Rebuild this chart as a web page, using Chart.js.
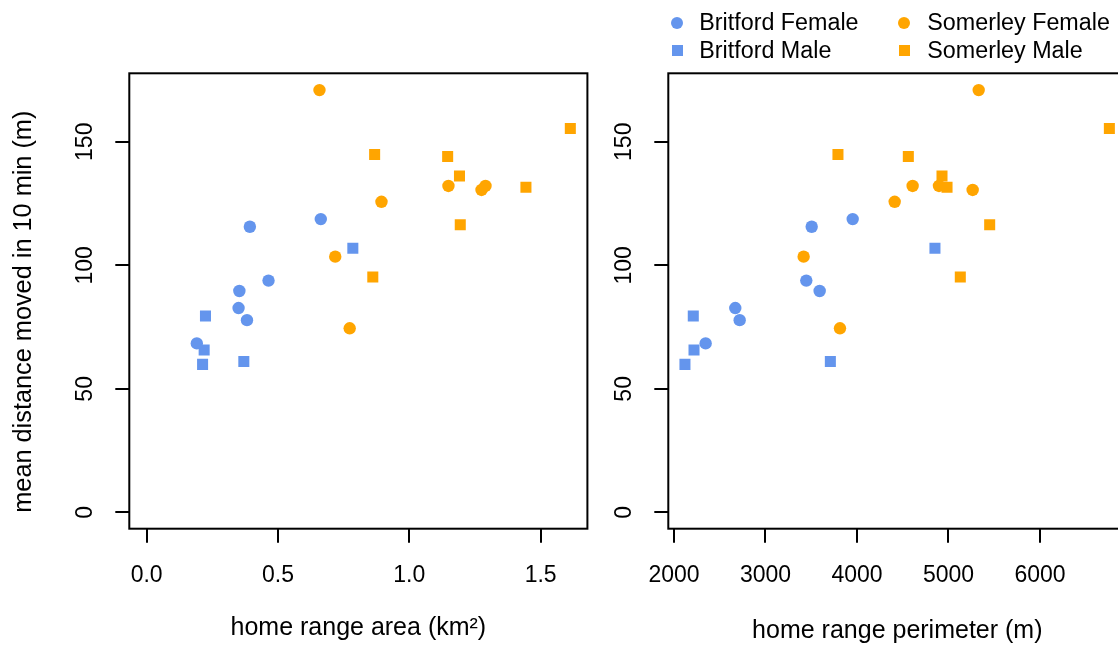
<!DOCTYPE html>
<html><head><meta charset="utf-8">
<script src="https://cdn.jsdelivr.net/npm/chart.js@4/dist/chart.umd.min.js"></script>
<style>
html,body{margin:0;padding:0;background:#fff;}
#wrap{position:relative;width:1118px;height:647px;overflow:hidden;font-family:"Liberation Sans",Arial,sans-serif;background:#fff;}
canvas{position:absolute;top:0;}
#c1{left:0;}
#c2{left:560px;}
.lg{position:absolute;font-size:23.3px;line-height:23px;color:#000;white-space:nowrap;}
.mk{position:absolute;}
</style></head><body>
<div id="wrap">
<canvas id="c1" width="600" height="647"></canvas>
<canvas id="c2" width="620" height="647"></canvas>
<div id="legend"></div>
</div>
<script>
// ---- data ----
const groupNames = ['Britford Female', 'Britford Male', 'Somerley Female', 'Somerley Male'];
const groupColors = ['#6495ED', '#6495ED', '#FFA500', '#FFA500'];
const groupShapes = ['circle', 'rect', 'circle', 'rect'];

// Britford Female
const bfArea  = [0.393, 0.663, 0.464, 0.353, 0.350, 0.382, 0.191];
const bfPerim = [3505, 3953, 3446, 3592, 2670, 2718, 2346];
const bfDist  = [115.6, 118.7, 93.8, 89.6, 82.7, 77.8, 68.4];
// Britford Male
const bmArea  = [0.785, 0.224, 0.219, 0.213, 0.370];
const bmPerim = [4852, 2211, 2219, 2120, 3709];
const bmDist  = [106.9, 79.5, 65.7, 59.9, 61.1];
// Somerley Female
const sfArea  = [0.658, 1.149, 1.290, 1.275, 0.894, 0.718, 0.773];
const sfPerim = [5330, 4608, 4896, 5264, 4412, 3417, 3814];
const sfDist  = [170.9, 132.1, 132.1, 130.5, 125.7, 103.5, 74.5];
// Somerley Male
const smArea  = [1.613, 0.868, 1.146, 1.191, 1.444, 1.194, 0.861];
const smPerim = [6758, 3792, 4561, 4929, 4984, 5450, 5129];
const smDist  = [155.4, 144.8, 144.0, 136.1, 131.6, 116.4, 95.3];

const areaTicks = [0, 0.5, 1.0, 1.5];
const areaTickLabels = ['0.0', '0.5', '1.0', '1.5'];
const perimTicks = [2000, 3000, 4000, 5000, 6000];
const perimTickLabels = ['2000', '3000', '4000', '5000', '6000'];
const distTicks = [0, 50, 100, 150];
const distTickLabels = ['0', '50', '100', '150'];

const yTitleText = 'mean distance moved in 10 min (m)';

const areaAll = [bfArea, bmArea, sfArea, smArea];
const perimAll = [bfPerim, bmPerim, sfPerim, smPerim];
const distAll = [bfDist, bmDist, sfDist, smDist];

// ---- styling ----
const FAMILY = '"Liberation Sans", Arial, sans-serif';
const FONT = {family: FAMILY, size: 23};
const TFONT = {family: FAMILY, size: 25};
const INK = '#000';

function makeDatasets(xs) {
  return groupNames.map((name, g) => ({
    label: name,
    data: xs[g].map((x, i) => ({x: x, y: distAll[g][i]})),
    pointStyle: groupShapes[g],
    pointRadius: groupShapes[g] === 'rect' ? 7.8 : 6.2,
    pointBorderWidth: 0,
    backgroundColor: groupColors[g],
    borderColor: groupColors[g],
    showLine: false
  }));
}

const boxPlugin = {
  id: 'box',
  afterDatasetsDraw(chart) {
    const {ctx, chartArea: a} = chart;
    ctx.save();
    ctx.strokeStyle = INK;
    ctx.lineWidth = 2;
    ctx.strokeRect(a.left, a.top, a.right - a.left, a.bottom - a.top);
    ctx.restore();
  }
};

// y-axis title (left panel only), placed like R's ylab
const yTitlePlugin = {
  id: 'ytitle',
  afterDraw(chart) {
    if (chart.canvas.id !== 'c1') return;
    const {ctx, chartArea: a} = chart;
    ctx.save();
    ctx.translate(30.9, (a.top + a.bottom) / 2 + 10.7);
    ctx.rotate(-Math.PI / 2);
    ctx.font = '25.3px ' + FAMILY;
    ctx.fillStyle = INK;
    ctx.textAlign = 'center';
    ctx.textBaseline = 'alphabetic';
    ctx.fillText(yTitleText, 0, 0);
    ctx.restore();
  }
};

function gridOpts() {
  return {drawOnChartArea: false, drawTicks: true, tickLength: 14, color: INK, lineWidth: 2};
}

function makeChart(canvasId, cfg) {
  return new Chart(document.getElementById(canvasId), {
    type: 'scatter',
    data: {datasets: makeDatasets(cfg.xs)},
    plugins: [boxPlugin, yTitlePlugin],
    options: {
      responsive: false,
      animation: false,
      events: [],
      layout: {padding: cfg.padding},
      plugins: {legend: {display: false}, tooltip: {enabled: false}},
      scales: {
        x: {
          type: 'linear', min: cfg.xmin, max: cfg.xmax,
          afterBuildTicks: s => { s.ticks = cfg.xTicks.map(v => ({value: v})); },
          afterFit: s => { s.height = 118.3; },
          border: {display: false},
          grid: gridOpts(),
          ticks: {font: FONT, color: INK, padding: 18.8, maxRotation: 0, minRotation: 0, autoSkip: false,
                  callback: (v, i) => cfg.xTickLabels[i]},
          title: {display: true, text: cfg.xTitle, font: TFONT, color: INK,
                  padding: {top: 0, bottom: cfg.xTitlePad}}
        },
        y: {
          type: 'linear', min: -6.6, max: 177.7,
          afterBuildTicks: s => { s.ticks = distTicks.map(v => ({value: v})); },
          afterFit: s => { s.width = cfg.yWidth; },
          border: {display: false},
          grid: gridOpts(),
          ticks: {font: FONT, color: INK, padding: 10.6, minRotation: 90, maxRotation: 90,
                  crossAlign: 'center', autoSkip: false,
                  callback: (v, i) => distTickLabels[i]},
          title: {display: false}
        }
      }
    }
  });
}

makeChart('c1', {
  xs: areaAll, xmin: -0.066, xmax: 1.678,
  xTicks: areaTicks, xTickLabels: areaTickLabels,
  xTitle: 'home range area (km²)', xTitlePad: 4,
  yWidth: 129.3,
  padding: {top: 73.3, right: 12.6, left: 0, bottom: 0}
});

makeChart('c2', {
  xs: perimAll, xmin: 1938, xmax: 6943,
  xTicks: perimTicks, xTickLabels: perimTickLabels,
  xTitle: 'home range perimeter (m)', xTitlePad: 0.7,
  yWidth: 108.3,
  padding: {top: 73.3, right: 53.7, left: 0, bottom: 0}
});

// ---- legend (2 x 2, column-major: Britford | Somerley) ----
const legendPos = [
  {mx: 676.7, my: 22.7, tx: 699.3, ty: 11.2},
  {mx: 677.0, my: 50.7, tx: 699.3, ty: 39.0},
  {mx: 904.3, my: 22.7, tx: 927.3, ty: 11.2},
  {mx: 904.6, my: 50.7, tx: 927.3, ty: 39.0}
];
const lg = document.getElementById('legend');
groupNames.forEach((name, g) => {
  const p = legendPos[g];
  const mk = document.createElement('div');
  mk.className = 'mk';
  const size = groupShapes[g] === 'rect' ? 11 : 12.4;
  mk.style.width = size + 'px';
  mk.style.height = size + 'px';
  mk.style.left = (p.mx - size / 2) + 'px';
  mk.style.top = (p.my - size / 2) + 'px';
  mk.style.background = groupColors[g];
  if (groupShapes[g] === 'circle') mk.style.borderRadius = '50%';
  lg.appendChild(mk);
  const t = document.createElement('div');
  t.className = 'lg';
  t.style.left = p.tx + 'px';
  t.style.top = p.ty + 'px';
  t.textContent = name;
  lg.appendChild(t);
});
</script>
</body></html>
